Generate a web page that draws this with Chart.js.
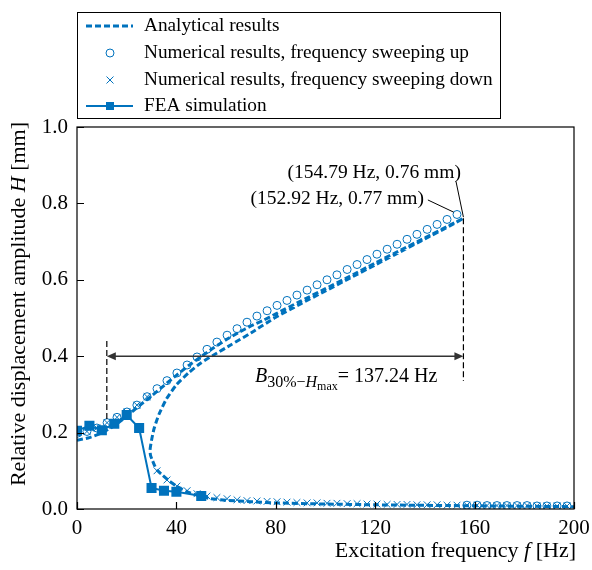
<!DOCTYPE html>
<html>
<head>
<meta charset="utf-8">
<script src="https://cdn.jsdelivr.net/npm/chart.js@4.4.1/dist/chart.umd.min.js"></script>
<style>
  html, body { margin: 0; padding: 0; background: #fff; }
</style>
</head>
<body>
<canvas id="chart" width="592" height="570"></canvas>
<script>
const SERIF = "'Liberation Serif', 'Times New Roman', serif";
const BLUE = '#0072BD';

// analytical curve: upper branch up to the fold, unstable branch back to the nose, lower branch
const anaFreq = [0, 5, 10, 15, 20, 25, 30, 35, 40, 45, 50, 55, 60, 65, 70, 75, 80, 90, 100, 110, 120, 130, 140, 150, 155.5,
  150, 140, 130, 120, 110, 100, 90, 80, 70, 62, 55, 50, 45, 40, 36, 33, 31, 30, 29.4, 29.6, 30.3, 31.2, 32.5, 34.5, 37, 40, 44, 48, 53, 60, 70, 80, 100, 120, 150, 200];
const anaAmp = [0.180, 0.187, 0.199, 0.218, 0.243, 0.270, 0.296, 0.323, 0.350, 0.376, 0.399, 0.422, 0.443, 0.462, 0.479, 0.494, 0.511, 0.544, 0.577, 0.610, 0.644, 0.677, 0.710, 0.743, 0.761,
  0.741, 0.707, 0.673, 0.639, 0.605, 0.571, 0.537, 0.502, 0.461, 0.430, 0.403, 0.383, 0.357, 0.325, 0.288, 0.248, 0.210, 0.180, 0.155, 0.140, 0.128, 0.114, 0.100, 0.088, 0.074, 0.060, 0.046, 0.037, 0.028, 0.023, 0.019, 0.016, 0.013, 0.011, 0.009, 0.006];

// numerical sweeps share one frequency grid
const sweepFreq = [0, 4.0, 8.0, 12.1, 16.1, 20.1, 24.1, 28.2, 32.2, 36.2, 40.2, 44.3, 48.3, 52.3, 56.3, 60.4, 64.4, 68.4, 72.4, 76.5,
  80.5, 84.5, 88.5, 92.6, 96.6, 100.6, 104.6, 108.7, 112.7, 116.7, 120.7, 124.8, 128.8, 132.8, 136.8, 140.9, 144.9, 148.9, 152.92,
  156.9, 161.0, 165.0, 169.0, 173.0, 177.1, 181.1, 185.1, 189.1, 193.2, 197.2];
const sweepUpAmp = [0.198, 0.203, 0.212, 0.226, 0.240, 0.254, 0.272, 0.294, 0.315, 0.336, 0.356, 0.377, 0.398, 0.418, 0.437, 0.455, 0.472, 0.489, 0.505, 0.519,
  0.533, 0.546, 0.560, 0.573, 0.587, 0.600, 0.613, 0.627, 0.640, 0.653, 0.667, 0.680, 0.693, 0.706, 0.719, 0.732, 0.745, 0.758, 0.771,
  0.010, 0.010, 0.009, 0.009, 0.009, 0.009, 0.009, 0.008, 0.008, 0.008, 0.008];
const sweepDownAmp = [0.198, 0.203, 0.212, 0.226, 0.240, 0.254, 0.272, 0.294, 0.100, 0.076, 0.060, 0.048, 0.040, 0.034, 0.030, 0.027, 0.024, 0.022, 0.021, 0.020,
  0.019, 0.018, 0.017, 0.016, 0.016, 0.015, 0.015, 0.014, 0.014, 0.013, 0.013, 0.012, 0.012, 0.012, 0.011, 0.011, 0.011, 0.010, 0.010,
  0.010, 0.010, 0.009, 0.009, 0.009, 0.009, 0.009, 0.008, 0.008, 0.008, 0.008];

const feaFreq = [0, 5, 10, 15, 20, 25, 30, 35, 40, 50];
const feaAmp = [0.205, 0.218, 0.206, 0.223, 0.246, 0.212, 0.055, 0.048, 0.045, 0.034];

const xTicks = [0, 40, 80, 120, 160, 200];
const yTicks = [0, 0.2, 0.4, 0.6, 0.8, 1.0];

const legendLabels = ['Analytical results', 'Numerical results, frequency sweeping up', 'Numerical results, frequency sweeping down', 'FEA simulation'];

const bandLeftF = 12;
const bandRightF = 155.5;
const bandH = 0.4;

function pts(xs, ys) {
  return xs.map((x, i) => ({ x, y: ys[i] }));
}

function richWidth(ctx, parts) {
  let w = 0;
  for (const [t, size, italic] of parts) {
    ctx.font = `${italic ? 'italic ' : ''}${size}px ${SERIF}`;
    w += ctx.measureText(t).width;
  }
  return w;
}

function richText(ctx, x, y, parts) {
  let cx = x;
  for (const [t, size, italic, dy] of parts) {
    ctx.font = `${italic ? 'italic ' : ''}${size}px ${SERIF}`;
    ctx.fillText(t, cx, y + (dy || 0));
    cx += ctx.measureText(t).width;
  }
}

function drawMarker(ctx, kind, x, y) {
  ctx.save();
  ctx.strokeStyle = BLUE;
  ctx.fillStyle = BLUE;
  ctx.setLineDash([]);
  if (kind === 'circle') {
    ctx.lineWidth = 1;
    ctx.beginPath();
    ctx.arc(x, y, 4, 0, Math.PI * 2);
    ctx.stroke();
  } else if (kind === 'cross') {
    ctx.lineWidth = 1;
    ctx.beginPath();
    ctx.moveTo(x - 3.5, y - 3.5); ctx.lineTo(x + 3.5, y + 3.5);
    ctx.moveTo(x + 3.5, y - 3.5); ctx.lineTo(x - 3.5, y + 3.5);
    ctx.stroke();
  } else {
    ctx.fillRect(x - 4, y - 4, 8, 8);
  }
  ctx.restore();
}

const decor = {
  id: 'decor',
  afterDraw(chart) {
    const { ctx, chartArea: a, scales: { x, y } } = chart;
    ctx.save();

    // frame and inward ticks
    ctx.strokeStyle = '#000';
    ctx.lineWidth = 1.2;
    ctx.setLineDash([]);
    ctx.strokeRect(a.left, a.top, a.right - a.left, a.bottom - a.top);
    ctx.beginPath();
    xTicks.forEach((v) => {
      const px = Math.round(x.getPixelForValue(v)) + 0.5;
      ctx.moveTo(px, a.bottom); ctx.lineTo(px, a.bottom - 7);
    });
    yTicks.forEach((v) => {
      const py = Math.round(y.getPixelForValue(v)) + 0.5;
      ctx.moveTo(a.left, py); ctx.lineTo(a.left + 7, py);
    });
    ctx.stroke();

    // bandwidth markers
    ctx.lineWidth = 1.2;
    ctx.setLineDash([6, 3]);
    ctx.beginPath();
    ctx.moveTo(x.getPixelForValue(bandLeftF), y.getPixelForValue(0.44));
    ctx.lineTo(x.getPixelForValue(bandLeftF), y.getPixelForValue(0.23));
    ctx.moveTo(x.getPixelForValue(bandRightF), y.getPixelForValue(0.761));
    ctx.lineTo(x.getPixelForValue(bandRightF), y.getPixelForValue(0.335));
    ctx.stroke();
    ctx.setLineDash([]);

    const ay = y.getPixelForValue(bandH);
    const ax0 = x.getPixelForValue(bandLeftF);
    const ax1 = x.getPixelForValue(bandRightF);
    ctx.strokeStyle = '#333';
    ctx.fillStyle = '#333';
    ctx.lineWidth = 1.5;
    ctx.beginPath();
    ctx.moveTo(ax0 + 6, ay); ctx.lineTo(ax1 - 6, ay);
    ctx.stroke();
    ctx.beginPath();
    ctx.moveTo(ax0, ay); ctx.lineTo(ax0 + 9, ay - 4); ctx.lineTo(ax0 + 9, ay + 4); ctx.closePath();
    ctx.moveTo(ax1, ay); ctx.lineTo(ax1 - 9, ay - 4); ctx.lineTo(ax1 - 9, ay + 4); ctx.closePath();
    ctx.fill();

    // leader lines
    ctx.strokeStyle = '#000';
    ctx.lineWidth = 1;
    ctx.beginPath();
    ctx.moveTo(x.getPixelForValue(152.5), y.getPixelForValue(0.858));
    ctx.lineTo(x.getPixelForValue(155.5), y.getPixelForValue(0.764));
    ctx.moveTo(x.getPixelForValue(141.2), y.getPixelForValue(0.809));
    ctx.lineTo(x.getPixelForValue(151.6), y.getPixelForValue(0.777));
    ctx.stroke();

    ctx.fillStyle = '#000';
    ctx.textBaseline = 'middle';
    ctx.textAlign = 'right';
    ctx.font = `19.5px ${SERIF}`;
    ctx.fillText('(154.79 Hz, 0.76 mm)', x.getPixelForValue(154.5), y.getPixelForValue(0.88));
    ctx.fillText('(152.92 Hz, 0.77 mm)', x.getPixelForValue(139.6), y.getPixelForValue(0.812));

    ctx.textAlign = 'left';
    ctx.textBaseline = 'alphabetic';
    richText(ctx, x.getPixelForValue(71.6), y.getPixelForValue(0.332), [
      ['B', 20, true, 0], ['30%\u2212', 16, false, 5], ['H', 16, true, 5], ['max', 12, false, 8], ['= 137.24 Hz', 20, false, 0]
    ]);

    // axis titles
    const xt = [['Excitation frequency ', 22, false], ['f', 22, true], [' [Hz]', 22, false]];
    ctx.textBaseline = 'middle';
    richText(ctx, a.right + 2 - richWidth(ctx, xt), 551, xt);
    const yt = [['Relative displacement amplitude ', 22, false], ['H', 22, true], [' [mm]', 22, false]];
    ctx.save();
    ctx.translate(19, 304);
    ctx.rotate(-Math.PI / 2);
    richText(ctx, -richWidth(ctx, yt) / 2, 0, yt);
    ctx.restore();

    // legend box
    ctx.strokeStyle = '#000';
    ctx.lineWidth = 1;
    ctx.strokeRect(77.5, 12.5, 423, 106);
    const rows = [26, 53, 80, 106];
    ctx.strokeStyle = BLUE;
    ctx.lineWidth = 3;
    ctx.setLineDash([6, 3]);
    ctx.beginPath(); ctx.moveTo(86, rows[0]); ctx.lineTo(133, rows[0]); ctx.stroke();
    ctx.setLineDash([]);
    drawMarker(ctx, 'circle', 110, rows[1]);
    drawMarker(ctx, 'cross', 110, rows[2]);
    ctx.lineWidth = 2;
    ctx.beginPath(); ctx.moveTo(86, rows[3]); ctx.lineTo(133, rows[3]); ctx.stroke();
    drawMarker(ctx, 'square', 110, rows[3]);
    ctx.fillStyle = '#000';
    ctx.font = `19.3px ${SERIF}`;
    ctx.textAlign = 'left';
    ctx.textBaseline = 'middle';
    legendLabels.forEach((t, i) => ctx.fillText(t, 144, rows[i]));

    ctx.restore();
  }
};

new Chart(document.getElementById('chart'), {
  type: 'scatter',
  data: {
    datasets: [
      { label: legendLabels[0], data: pts(anaFreq, anaAmp), showLine: true, borderColor: BLUE, borderWidth: 3, borderDash: [6, 3], pointRadius: 0, tension: 0.2, order: 1 },
      { label: legendLabels[1], data: pts(sweepFreq, sweepUpAmp), pointStyle: 'circle', pointRadius: 4, borderColor: BLUE, backgroundColor: 'rgba(0,0,0,0)', borderWidth: 1, order: 3 },
      { label: legendLabels[2], data: pts(sweepFreq, sweepDownAmp), pointStyle: 'crossRot', pointRadius: 4.8, borderColor: BLUE, borderWidth: 1, order: 2 },
      { label: legendLabels[3], data: pts(feaFreq, feaAmp), showLine: true, borderColor: BLUE, backgroundColor: BLUE, borderWidth: 2, pointStyle: 'rect', pointRadius: 5.7, order: 0 }
    ]
  },
  options: {
    responsive: false,
    animation: false,
    devicePixelRatio: 1,
    layout: { padding: { left: 0, top: 127, right: 18, bottom: 0 } },
    plugins: { legend: { display: false }, tooltip: { enabled: false } },
    scales: {
      x: {
        type: 'linear', min: 0, max: 200,
        afterFit: (s) => { s.height = 61; s.paddingLeft = 0; s.paddingRight = 0; },
        afterBuildTicks: (s) => { s.ticks = xTicks.map((v) => ({ value: v })); },
        grid: { display: false, drawTicks: false },
        border: { display: false },
        ticks: { color: '#000', font: { family: SERIF, size: 21 }, padding: 7, maxRotation: 0 }
      },
      y: {
        type: 'linear', min: 0, max: 1,
        afterFit: (s) => { s.width = 77; s.paddingTop = 0; s.paddingBottom = 0; },
        afterBuildTicks: (s) => { s.ticks = yTicks.map((v) => ({ value: v })); },
        grid: { display: false, drawTicks: false },
        border: { display: false },
        ticks: { color: '#000', font: { family: SERIF, size: 21 }, padding: 9, callback: (v) => v.toFixed(1) }
      }
    }
  },
  plugins: [decor]
});
</script>
</body>
</html>
